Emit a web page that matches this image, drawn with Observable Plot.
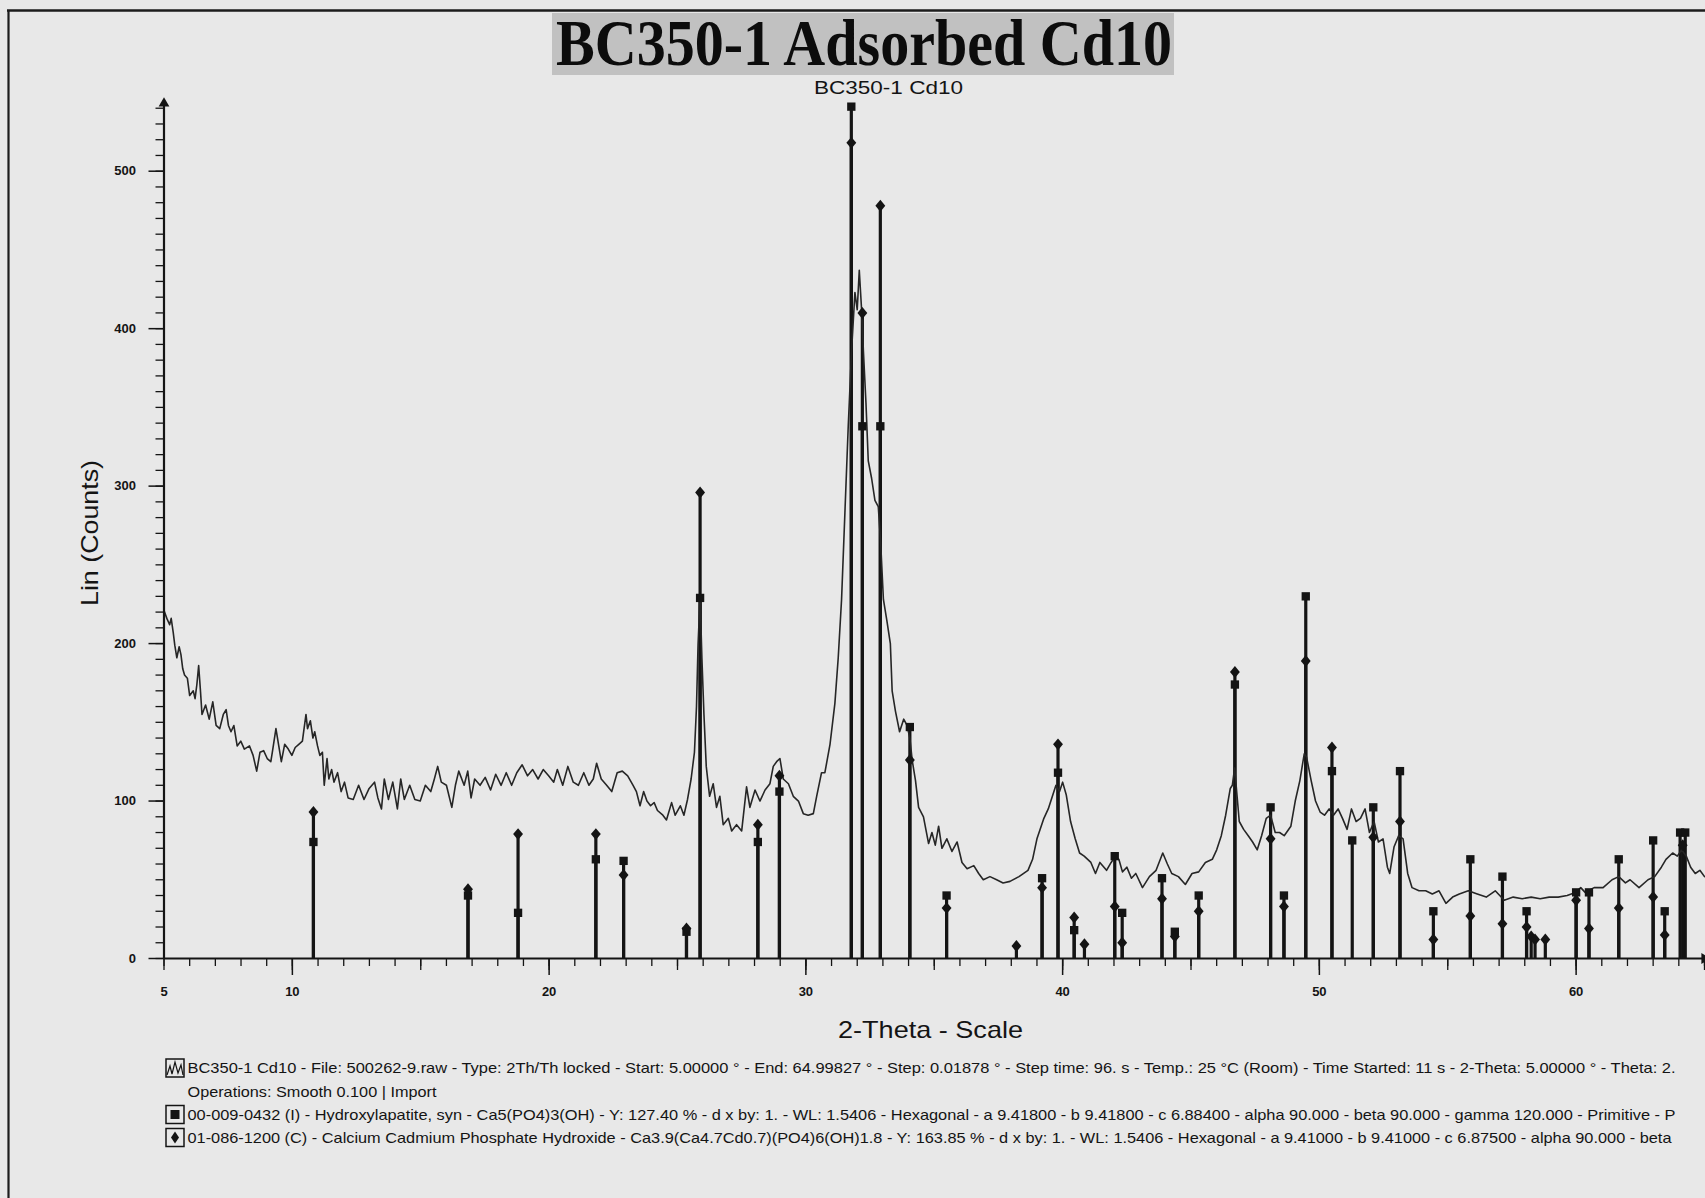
<!DOCTYPE html>
<html>
<head>
<meta charset="utf-8">
<script src="https://cdn.jsdelivr.net/npm/d3@7"></script>
<script src="https://cdn.jsdelivr.net/npm/@observablehq/plot@0.6"></script>
<style>
  html, body { margin: 0; padding: 0; background: #e8e8e8; }
  #page { position: relative; width: 1705px; height: 1198px; background: #e8e8e8; overflow: hidden; }
  #chart { position: absolute; left: 0; top: 0; }
  #ov { position: absolute; left: 0; top: 0; pointer-events: none; }
</style>
</head>
<body>
<div id="page">
  <div id="chart"></div>
  <svg id="ov" width="1705" height="1198"></svg>
</div>
<script>
// ---------------- DATA ----------------
// measured pattern: 2-theta (deg)
const theta = [
5.00,5.11,5.22,5.28,5.36,5.42,5.50,5.59,5.66,5.73,5.80,5.91,6.00,6.14,6.21,6.28,6.35,6.42,6.48,6.62,
6.76,6.90,7.03,7.17,7.31,7.42,7.51,7.61,7.72,7.85,7.99,8.13,8.33,8.47,8.61,8.74,8.88,9.02,9.16,9.22,
9.36,9.47,9.57,9.70,9.84,9.98,10.11,10.25,10.39,10.53,10.59,10.70,10.80,10.87,10.98,11.07,11.17,11.24,11.35,11.42,
11.53,11.62,11.76,11.90,12.03,12.17,12.37,12.58,12.79,12.99,13.20,13.33,13.47,13.58,13.74,13.91,14.09,14.22,14.36,14.57,
14.77,14.98,15.18,15.39,15.53,15.66,15.80,16.00,16.21,16.35,16.48,16.69,16.83,16.96,17.10,17.31,17.51,17.72,17.92,18.13,
18.33,18.54,18.74,18.95,19.16,19.36,19.57,19.77,19.98,20.18,20.32,20.53,20.73,20.94,21.14,21.35,21.55,21.72,21.85,22.03,
22.24,22.44,22.65,22.85,23.06,23.27,23.40,23.54,23.68,23.81,23.95,24.09,24.22,24.43,24.57,24.77,24.91,25.11,25.25,25.39,
25.53,25.66,25.74,25.80,25.88,25.95,26.03,26.12,26.25,26.39,26.52,26.65,26.78,26.98,27.11,27.30,27.50,27.69,27.82,28.02,
28.21,28.41,28.60,28.73,28.86,28.99,29.12,29.32,29.51,29.71,29.90,30.09,30.29,30.42,30.61,30.74,30.94,31.13,31.26,31.39,
31.52,31.65,31.78,31.91,32.00,32.08,32.17,32.24,32.34,32.43,32.56,32.69,32.82,32.91,33.02,33.15,33.29,33.36,33.49,33.65,
33.81,33.94,34.05,34.14,34.27,34.39,34.58,34.78,34.91,35.04,35.17,35.30,35.49,35.69,35.89,36.08,36.28,36.54,36.73,36.91,
37.17,37.43,37.68,37.95,38.30,38.65,38.83,39.00,39.27,39.44,39.62,39.74,39.88,40.00,40.14,40.31,40.49,40.66,40.84,41.10,
41.28,41.45,41.71,41.89,42.06,42.19,42.33,42.50,42.68,42.85,43.11,43.38,43.64,43.90,44.08,44.25,44.51,44.78,45.04,45.30,
45.56,45.83,46.00,46.18,46.35,46.53,46.61,46.70,46.79,46.88,47.05,47.23,47.40,47.58,47.75,47.93,48.10,48.28,48.45,48.63,
48.89,49.06,49.24,49.41,49.50,49.68,49.85,50.03,50.20,50.38,50.55,50.73,50.90,51.08,51.25,51.43,51.60,51.78,51.95,52.13,
52.30,52.48,52.65,52.74,52.91,53.09,53.26,53.44,53.61,53.88,54.14,54.40,54.66,54.93,55.19,55.45,55.80,56.15,56.50,56.85,
57.20,57.55,57.90,58.25,58.60,58.95,59.30,59.65,60.00,60.18,60.35,60.70,61.05,61.40,61.66,61.92,62.10,62.45,62.80,63.06,
63.32,63.50,63.76,63.94,64.11,64.29,64.46,64.64,64.82,65.00
];
// measured pattern: Lin (Counts)
const counts = [
221,216,212,216,207,199,191,198,193,184,180,178,167,170,165,174,186,170,155,161,
152,163,148,146,155,158,148,144,148,135,138,133,135,129,119,131,132,127,125,131,
146,135,125,136,133,129,134,136,138,155,146,151,140,144,135,129,131,110,127,114,
120,112,118,106,112,102,101,110,101,108,112,102,95,114,101,112,95,114,101,110,
101,100,110,106,114,122,112,110,96,110,119,110,119,102,114,110,115,107,117,110,
118,110,118,123,116,120,114,120,116,112,120,110,122,112,110,118,110,114,124,114,
110,106,118,119,116,110,106,97,106,100,97,99,94,91,88,99,91,97,91,101,
114,131,160,199,230,191,155,122,103,111,96,103,85,89,81,85,81,109,96,107,
100,107,111,122,125,127,114,111,103,100,92,91,92,103,118,118,136,162,191,228,
283,338,386,423,412,437,412,386,353,316,305,291,287,265,228,215,200,170,157,144,
152,148,140,126,113,96,90,73,80,72,84,70,76,68,74,61,57,59,54,50,
52,50,48,49,52,56,63,76,89,95,104,110,106,112,104,87,76,67,65,61,
54,61,56,61,65,63,55,58,51,54,45,52,56,67,60,54,52,47,54,55,
61,63,69,78,91,108,110,121,104,87,82,78,74,69,78,89,91,80,80,78,
84,100,113,130,128,113,100,93,91,95,91,95,89,82,95,87,89,95,80,87,
74,76,58,54,71,78,76,54,45,43,43,41,43,35,39,41,43,41,39,43,
37,39,38,39,38,39,39,40,42,45,42,45,45,50,52,48,50,45,50,52,
58,63,67,65,69,65,58,54,56,52
];

// reference pattern 00-009-0432 Hydroxylapatite (square markers)
const hapTheta = [10.82,16.84,18.79,21.82,22.90,25.35,25.88,28.13,28.97,31.77,32.20,32.90,34.05,35.48,39.20,39.82,40.45,42.03,42.32,43.87,
  44.37,45.30,46.71,48.10,48.62,49.47,50.49,51.28,52.10,53.14,54.44,55.88,57.13,58.07,60.00,60.50,61.66,63.00,63.45,64.05,64.25];
const hapI = [74,40,29,63,62,17,229,74,106,541,338,338,147,40,51,118,18,65,29,51,
  17,40,174,96,40,230,119,75,96,119,30,63,52,30,42,42,63,75,30,80,80];

// reference pattern 01-086-1200 Calcium Cadmium Phosphate Hydroxide (diamond markers)
const cdTheta = [10.82,16.84,18.79,21.82,22.90,25.35,25.88,28.13,28.97,31.77,32.20,32.90,34.05,35.48,38.20,39.20,39.82,40.45,40.85,42.03,
  42.32,43.87,44.37,45.30,46.71,48.10,48.62,49.47,50.49,52.10,53.14,54.44,55.88,57.13,58.07,58.25,58.40,58.80,60.00,60.50,
  61.66,63.00,63.45,64.15];
const cdI = [93,44,79,79,53,19,296,85,116,518,410,478,126,32,8,45,136,26,9,33,
  10,38,14,30,182,76,33,189,134,77,87,12,27,22,20,14,12,12,37,19,
  32,39,15,72];

const xTickLabels = [5, 10, 20, 30, 40, 50, 60];
const yTickLabels = [0, 100, 200, 300, 400, 500];

const titleText = "BC350-1 Adsorbed Cd10";
const subtitleText = "BC350-1  Cd10";
const xLabel = "2-Theta - Scale";
const yLabel = "Lin (Counts)";
const legendLines = [
  "BC350-1  Cd10 - File: 500262-9.raw - Type: 2Th/Th locked - Start: 5.00000 ° - End: 64.99827 ° - Step: 0.01878 ° - Step time: 96. s - Temp.: 25 °C (Room) - Time Started: 11 s - 2-Theta: 5.00000 ° - Theta: 2.",
  "Operations: Smooth 0.100 | Import",
  "00-009-0432 (I) - Hydroxylapatite, syn - Ca5(PO4)3(OH) - Y: 127.40 % - d x by: 1. - WL: 1.5406 - Hexagonal - a 9.41800 - b 9.41800 - c 6.88400 - alpha 90.000 - beta 90.000 - gamma 120.000 - Primitive - P",
  "01-086-1200 (C) - Calcium Cadmium Phosphate Hydroxide - Ca3.9(Ca4.7Cd0.7)(PO4)6(OH)1.8 - Y: 163.85 % - d x by: 1. - WL: 1.5406 - Hexagonal - a 9.41000 - b 9.41000 - c 6.87500 - alpha 90.000 - beta"
];

// ---------------- BUILD ----------------
const curve = theta.map((t, i) => ({t, c: counts[i]}));
const hap = hapTheta.map((t, i) => ({t, i: hapI[i]}));
const cd = cdTheta.map((t, i) => ({t, i: cdI[i]}));
const yTop = 543;
const ink = "#141414";

// rhombus marker, a little wider than d3's diamond
const rhombus = {
  draw(context, size) {
    const r = Math.sqrt(size / Math.PI);
    const w = r * 0.95, h = r * 1.15;
    context.moveTo(0, -h);
    context.lineTo(w, 0);
    context.lineTo(0, h);
    context.lineTo(-w, 0);
    context.closePath();
  }
};

const chart = Plot.plot({
  width: 1705,
  height: 1000,
  marginTop: 103,
  marginBottom: 42,
  marginLeft: 163.5,
  marginRight: 1,
  x: {domain: [5, 65]},
  y: {domain: [0, yTop]},
  style: {background: "transparent", fontFamily: "'Liberation Sans', Arial, sans-serif", fontSize: "13px", fontWeight: "bold", color: ink, overflow: "visible"},
  marks: [
    Plot.axisY(d3.range(0, 541, 10), {tickSize: 8, tickFormat: () => "", label: null, strokeWidth: 1.3, stroke: ink}),
    Plot.axisY(yTickLabels, {tickSize: 15, tickPadding: 13, label: null, strokeWidth: 1.5, stroke: ink, fill: ink}),
    Plot.axisX(d3.range(5, 66, 1), {tickSize: 8, tickFormat: () => "", label: null, strokeWidth: 1.3, stroke: ink}),
    Plot.axisX(d3.range(5, 66, 5), {tickSize: 12, tickFormat: () => "", label: null, strokeWidth: 1.3, stroke: ink}),
    Plot.axisX(d3.range(10, 61, 10), {tickSize: 17, tickFormat: () => "", label: null, strokeWidth: 1.5, stroke: ink}),
    Plot.axisX(xTickLabels, {tickSize: 0, tickPadding: 28, label: null, fill: ink}),
    Plot.ruleX(hap, {x: "t", y1: 0, y2: "i", stroke: ink, strokeWidth: 3.2}),
    Plot.ruleX(cd, {x: "t", y1: 0, y2: "i", stroke: ink, strokeWidth: 3.2}),
    Plot.line(curve, {x: "t", y: "c", stroke: "#262626", strokeWidth: 1.6}),
    Plot.dot(hap, {x: "t", y: "i", symbol: "square", r: 4.7, fill: ink}),
    Plot.dot(cd, {x: "t", y: "i", symbol: rhombus, r: 5.2, fill: ink}),
    Plot.ruleX([5], {y1: 0, y2: yTop, stroke: ink, strokeWidth: 2.2}),
    Plot.ruleY([0], {stroke: ink, strokeWidth: 2}),
    Plot.dot([{x: 5, y: yTop}], {x: "x", y: "y", symbol: "triangle", r: 4, fill: ink}),
    Plot.dot([{x: 65, y: 0}], {x: "x", y: "y", symbol: "triangle", r: 4, fill: ink, rotate: 90})
  ]
});
document.getElementById("chart").appendChild(chart);

// ---------------- OVERLAY TEXTS ----------------
const ov = d3.select("#ov");
// frame
ov.append("line").attr("x1", 7).attr("x2", 1705).attr("y1", 10.5).attr("y2", 10.5).attr("stroke", "#1c1c1c").attr("stroke-width", 2.5);
ov.append("line").attr("x1", 8.5).attr("x2", 8.5).attr("y1", 10).attr("y2", 1198).attr("stroke", "#1c1c1c").attr("stroke-width", 2.2);

function txt(s, x, y, size, width, opts = {}) {
  const t = ov.append("text").text(s)
    .attr("x", x).attr("y", y)
    .attr("font-size", size)
    .attr("font-family", opts.family || "'Liberation Sans', Arial, sans-serif")
    .attr("font-weight", opts.weight || "normal")
    .attr("fill", opts.fill || ink)
    .attr("text-anchor", opts.anchor || "start")
    .attr("textLength", width)
    .attr("lengthAdjust", "spacingAndGlyphs");
  if (opts.transform) t.attr("transform", opts.transform);
  return t;
}

// subtitle (just under the title box)
txt(subtitleText, 888.5, 94, 18, 149, {anchor: "middle"});
// title box + title
ov.append("rect").attr("x", 552).attr("y", 13).attr("width", 622).attr("height", 62).attr("fill", "#c1c1c1");
txt(titleText, 864, 65, 66, 616, {anchor: "middle", weight: "bold", family: "'Liberation Serif', 'Times New Roman', serif", fill: "#0c0c0c"});

// axis titles
txt(yLabel, 0, 0, 24, 146, {anchor: "middle", transform: "translate(98,533) rotate(-90)"});
txt(xLabel, 930.5, 1038, 24, 185, {anchor: "middle"});

// legend
const baselines = [1073, 1097, 1119.5, 1142.5];
const widths = [1488, 249, 1488, 1484];
legendLines.forEach((s, i) => txt(s, 187.5, baselines[i], 15, widths[i]));

function iconBox(cy) {
  return ov.append("rect").attr("x", 166).attr("y", cy - 9).attr("width", 18).attr("height", 18)
    .attr("fill", "none").attr("stroke", ink).attr("stroke-width", 1.5);
}
const c1 = baselines[0] - 5, c3 = baselines[2] - 5, c4 = baselines[3] - 5;
iconBox(c1);
ov.append("polyline").attr("fill", "none").attr("stroke", ink).attr("stroke-width", 1.2)
  .attr("points", [[167, c1 + 7], [170, c1 - 2], [172, c1 + 6], [175, c1 - 6], [178, c1 + 5], [181, c1 - 3], [183, c1 + 7]].map(p => p.join(",")).join(" "));
iconBox(c3);
ov.append("rect").attr("x", 170.5).attr("y", c3 - 4.5).attr("width", 9).attr("height", 9).attr("fill", ink);
iconBox(c4);
ov.append("path").attr("d", `M175,${c4 - 6} L179,${c4} L175,${c4 + 6} L171,${c4} Z`).attr("fill", ink);
</script>
</body>
</html>
